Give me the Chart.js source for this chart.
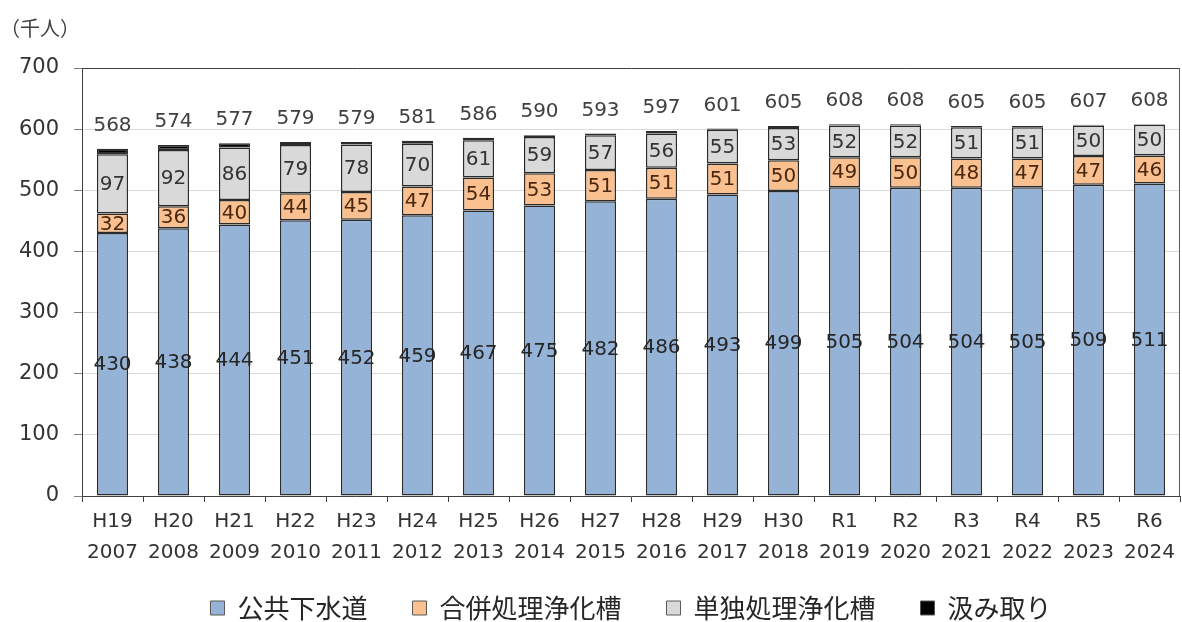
<!DOCTYPE html>
<html lang="ja">
<head>
<meta charset="utf-8">
<script src="https://cdn.jsdelivr.net/npm/chart.js@4.4.1/dist/chart.umd.min.js"></script>
<style>
  html, body { margin: 0; padding: 0; background: #ffffff; }
  #wrap { width: 1182px; height: 622px; }
</style>
</head>
<body>
<div id="wrap"><canvas id="c" width="1182" height="622"></canvas></div>
<script>
const eraLabels = ["H19","H20","H21","H22","H23","H24","H25","H26","H27","H28","H29","H30","R1","R2","R3","R4","R5","R6"];
const yearLabels = ["2007","2008","2009","2010","2011","2012","2013","2014","2015","2016","2017","2018","2019","2020","2021","2022","2023","2024"];
const sewer = [430,438,444,451,452,459,467,475,482,486,493,499,505,504,504,505,509,511];
const combinedTank = [32,36,40,44,45,47,54,53,51,51,51,50,49,50,48,47,47,46];
const singleTank = [97,92,86,79,78,70,61,59,57,56,55,53,52,52,51,51,50,50];
const pumping = [9,8,7,5,4,5,4,3,3,4,2,3,2,2,2,2,1,1];
const totals = [568,574,577,579,579,581,586,590,593,597,601,605,608,608,605,605,607,608];
const seriesNames = ["公共下水道","合併処理浄化槽","単独処理浄化槽","汲み取り"];
const unitLabel = "（千人）";

const NUM_FONT = '"DejaVu Sans", Verdana, sans-serif';
const JP_FONT = '"Noto Sans CJK JP", "Noto Sans", sans-serif';

const labelPlugin = {
  id: 'valueLabels',
  afterDatasetsDraw(chart) {
    const ctx = chart.ctx;
    ctx.save();
    ctx.font = '20px ' + NUM_FONT;
    ctx.textAlign = 'center';
    ctx.textBaseline = 'middle';
    const colors = ['#262626', '#4a2810', '#333333'];
    for (let d = 0; d < 3; d++) {
      const meta = chart.getDatasetMeta(d);
      const vals = chart.data.datasets[d].data;
      meta.data.forEach((el, i) => {
        ctx.fillStyle = colors[d];
        ctx.fillText(String(vals[i]), el.x, (el.y + el.base) / 2 + 1);
      });
    }
    const topMeta = chart.getDatasetMeta(3);
    ctx.fillStyle = '#404040';
    topMeta.data.forEach((el, i) => {
      ctx.fillText(String(totals[i]), el.x, el.y - 23);
    });
    // unit label
    ctx.textAlign = 'left';
    ctx.font = '20px ' + JP_FONT;
    ctx.fillStyle = '#404040';
    ctx.fillText(unitLabel, 0, 28);
    // right border of plot area
    const a = chart.chartArea;
    ctx.strokeStyle = '#595959';
    ctx.lineWidth = 1;
    ctx.beginPath();
    ctx.moveTo(a.right - 0.5, a.top);
    ctx.lineTo(a.right - 0.5, a.bottom);
    ctx.stroke();
    ctx.restore();
  }
};

const border = '#2b2b2b';
const ds = (label, data, color) => ({
  label, data, backgroundColor: color, borderColor: border, borderWidth: 1.5,
  borderSkipped: false, categoryPercentage: 1.0, barPercentage: 0.51
});

new Chart(document.getElementById('c'), {
  type: 'bar',
  data: {
    labels: eraLabels.map((e, i) => [e, yearLabels[i]]),
    datasets: [
      ds(seriesNames[0], sewer, '#95b3d7'),
      ds(seriesNames[1], combinedTank, '#fac090'),
      ds(seriesNames[2], singleTank, '#d9d9d9'),
      ds(seriesNames[3], pumping, '#000000')
    ]
  },
  options: {
    responsive: false,
    animation: false,
    devicePixelRatio: 1,
    layout: { padding: { top: 68, right: 2, bottom: -9, left: 0 } },
    plugins: {
      tooltip: { enabled: false },
      title: { display: false },
      legend: {
        position: 'bottom',
        fullSize: false,
        labels: {
          font: { family: JP_FONT, size: 26 },
          color: '#262626',
          boxWidth: 14,
          boxHeight: 14,
          padding: 19,
          generateLabels(chart) {
            const base = Chart.defaults.plugins.legend.labels.generateLabels(chart);
            return base.map((l, i) => {
              l.lineWidth = 1;
              l.strokeStyle = '#595959';
              if (i < base.length - 1) l.text = l.text + '\u3000';
              return l;
            });
          }
        }
      }
    },
    scales: {
      x: {
        stacked: true,
        afterFit(scale) { scale.height = 80; },
        grid: {
          offset: true,
          drawOnChartArea: false,
          drawTicks: true,
          tickLength: 6,
          color: '#404040'
        },
        border: { display: true, color: '#404040', width: 1 },
        ticks: {
          font: { family: NUM_FONT, size: 20, lineHeight: 1.55 },
          color: '#333333',
          padding: 4,
          maxRotation: 0,
          autoSkip: false
        }
      },
      y: {
        stacked: true,
        min: 0,
        max: 700,
        afterFit(scale) { scale.width = 82; },
        grid: {
          color: (c) => (c.tick && c.tick.value === 700) ? '#404040' : '#d9d9d9',
          tickColor: '#7f7f7f',
          tickLength: 8,
          lineWidth: 1
        },
        border: { display: true, color: '#404040', width: 1 },
        ticks: {
          stepSize: 100,
          font: { family: NUM_FONT, size: 21 },
          color: '#333333',
          padding: 15
        }
      }
    }
  },
  plugins: [labelPlugin]
});
</script>
</body>
</html>
